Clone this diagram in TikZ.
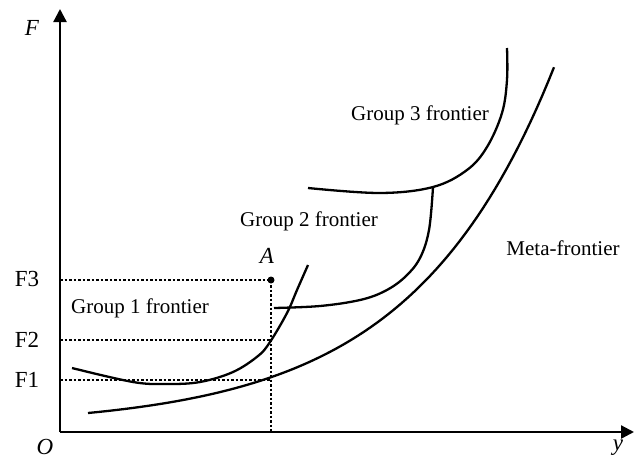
\documentclass[tikz,border=0pt]{standalone}
\usepackage{fontspec}
\setmainfont{Liberation Serif}
\usetikzlibrary{arrows.meta,calc}
\tikzset{
    axis/.style={line width=2.3pt, -{Triangle[length=13pt,width=13pt]}}, % axes with solid heads
    frontier/.style={line width=2.3pt, smooth, tension=0.6}, % the frontier curves
    guide/.style={line width=1.6pt, dash pattern=on 2.5pt off 2pt}, % dotted guide lines
    lbl/.style={font=\fontsize{21}{24}\selectfont, inner sep=0pt},
    lvl/.style={font=\fontsize{23}{26}\selectfont, inner sep=0pt},
    axlbl/.style={font=\fontsize{23}{26}\selectfont\itshape, inner sep=0pt},
}

\begin{document}
\begin{tikzpicture}[x=1pt,y=-1pt]
  \useasboundingbox (0,0) rectangle (635,459);

  \coordinate (O) at (60,432);
  \coordinate (Ytop) at (60,9);
  \coordinate (Xend) at (634,432);
  \coordinate (A) at (271,280);

  % axes
  \draw[axis] (O) -- (Ytop);
  \draw[axis] (O) -- (Xend);
  \node[axlbl] (lF) at (32,28)  {F};
  \node[axlbl] (lO) at (45,447) {O};
  \node[axlbl] (ly) at (618,448) {y};

  % levels F1, F2, F3
  \coordinate (f1) at (60,380);
  \coordinate (f2) at (60,340);
  \coordinate (f3) at (60,280);
  \node[lvl] (lF1) at (27,380) {F1};
  \node[lvl] (lF2) at (27,340) {F2};
  \node[lvl] (lF3) at (27,279) {F3};
  \draw[guide] (f1) -- (f1 -| A);
  \draw[guide] (f2) -- (f2 -| A);
  \draw[guide] (f3) -- (A) -- (A |- O);
  \fill (A) circle (3.5pt);
  \node[axlbl] (lA) at (267,256) {A};

  % frontiers
  \draw[frontier] plot coordinates {(72,368) (133,382) (167,384) (200,382) (233,372)
      (258,356) (270,342) (287,313) (297,290) (308,265)};
  \draw[frontier] plot coordinates {(274,308) (320,306) (360,300) (385,291) (405,277)
      (420,258) (429,230) (433,187)};
  \draw[frontier] plot coordinates {(308,188) (380,193) (433,187) (467,170) (487,147)
      (502,113) (507,80) (507,48)};
  \draw[line width=2.3pt] plot[domain=88:554, samples=80]
      (\x, {432-5.25-13.75*exp(0.007*(\x-88))});

  \node[lbl] (g1) at (140,308) {Group 1 frontier};
  \node[lbl] (g2) at (309,221) {Group 2 frontier};
  \node[lbl] (g3) at (420,115) {Group 3 frontier};
  \node[lbl] (meta) at (563,248) {Meta-frontier};
\end{tikzpicture}
\end{document}
